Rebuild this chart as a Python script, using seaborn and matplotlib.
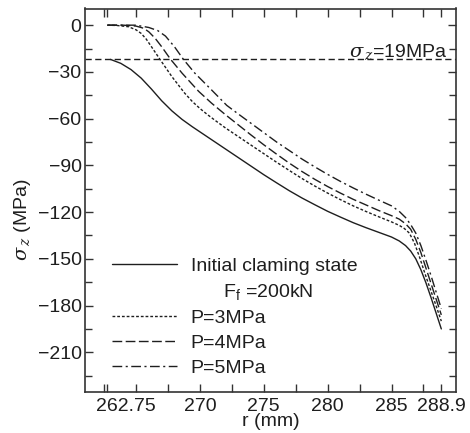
import matplotlib
matplotlib.use("Agg")
import matplotlib.pyplot as plt
import matplotlib.transforms as mtransforms
from matplotlib.lines import Line2D
from matplotlib.ticker import MultipleLocator, FixedLocator
import seaborn as sns
import pandas as pd

# ---------------- data ----------------
r_init = [263.0, 263.8, 264.6, 265.4, 266.2, 267.0, 267.8, 268.6, 269.4, 270.2, 271.0, 272.0,
          273.0, 274.0, 275.0, 276.0, 277.0, 278.0, 279.0, 280.0, 281.0, 282.0, 283.0,
          284.0, 285.0, 285.6, 286.1, 286.5, 286.9, 287.3, 287.7, 288.1, 288.5, 288.9]
s_init = [-22, -24.5, -28.5, -34, -41, -48.5, -55, -60.5, -65.2, -69.6, -74, -79.5,
          -85, -90.5, -96, -101.2, -106.3, -111, -115.3, -119.5, -123.2, -126.8, -130,
          -133, -136, -138.5, -141.5, -145, -150, -157, -165.5, -175, -185, -195]

r_p3 = [262.75, 263.5, 264.4, 265.0, 265.4, 265.8, 266.2, 266.9, 267.8, 268.8, 269.4,
        270.0, 270.6, 271.2, 272.0, 273.0, 274.0, 275.0, 276.0, 277.0, 278.0, 279.0,
        280.0, 281.0, 282.0, 283.0, 284.0, 285.0, 285.6, 286.0, 286.4, 286.8, 287.2,
        287.6, 288.0, 288.4, 288.9]
s_p3 = [0, -0.2, -1, -3, -5.3, -9, -13.8, -22.3, -33, -43.6, -49,
        -53.5, -57.5, -61.2, -66, -71.5, -77, -82.5, -88, -93.3, -98.5, -103.3,
        -107.8, -112, -116, -119.6, -123, -126.3, -128.5, -130.5, -133.5, -140, -149,
        -159, -168.5, -178, -190]

r_p4 = [262.75, 264.0, 265.0, 265.6, 266.0, 266.5, 267.0, 267.7, 268.6, 269.9, 270.9,
        272.0, 273.0, 274.0, 275.0, 276.0, 277.0, 278.0, 279.0, 280.0, 281.0, 282.0,
        283.0, 284.0, 285.0, 285.6, 286.1, 286.5, 286.9, 287.3, 287.7, 288.1, 288.5,
        288.9]
s_p4 = [0, 0, -0.6, -2, -4.3, -8.5, -13.8, -21.9, -30.8, -42.5, -50,
        -57.5, -64, -70.5, -76.8, -82.8, -88.6, -94, -99, -103.6, -107.8, -111.8,
        -115.4, -119, -122.3, -124.5, -127.5, -131, -137.5, -146, -156, -166, -176,
        -186]

r_p5 = [262.75, 265.0, 266.0, 266.7, 267.3, 268.0, 268.7, 269.6, 270.9, 272.1, 273.0,
        274.0, 275.0, 276.0, 277.0, 278.0, 279.0, 280.0, 281.0, 282.0, 283.0, 284.0,
        285.0, 285.6, 286.1, 286.5, 286.9, 287.3, 287.7, 288.1, 288.5, 288.9]
s_p5 = [0, 0, -1.5, -3.5, -7, -13.8, -21.9, -30.8, -41.5, -51.5, -57,
        -63, -69, -75, -80.5, -86, -91, -95.8, -100.3, -104.5, -108.5, -112.3,
        -116, -119.5, -123.5, -128, -133.5, -141.5, -151, -161, -171.5, -182]

threshold = -22
threshold_label = r"$\sigma_{\,z}$=19MPa"

series_labels = ["Initial claming state", "P=3MPa", "P=4MPa", "P=5MPa"]
extra_label = r"F$_\mathregular{f}$ =200kN"

x_major = [262.5, 262.75, 265, 267.5, 270, 272.5, 275, 277.5, 280, 282.5, 285, 287.5, 288.9]
x_labeled = [262.75, 270, 275, 280, 285, 288.9]
x_label_text = ["262.75", "270", "275", "280", "285", "288.9"]
y_major = [-210, -180, -150, -120, -90, -60, -30, 0]

# ---------------- style ----------------
sns.set_style("ticks")
plt.rcParams["font.family"] = ["Liberation Sans", "DejaVu Sans"]
plt.rcParams["mathtext.fontset"] = "custom"
plt.rcParams["mathtext.rm"] = "Liberation Sans"
plt.rcParams["mathtext.it"] = "DejaVu Serif:italic"
plt.rcParams["font.size"] = 14

ink = "#1e1e1e"
fig = plt.figure(figsize=(4.70, 4.33), dpi=100)
ax = fig.add_axes([85 / 470, 1 - 392 / 433, (456 - 85) / 470, (392 - 8.5) / 433])

styles = [
    dict(linestyle="-"),
    dict(linestyle=(0, (2.0, 1.4))),
    dict(linestyle=(0, (7.0, 2.5))),
    dict(linestyle=(0, (7.0, 2.5, 1.5, 2.5))),
]
datasets = [(r_init, s_init), (r_p3, s_p3), (r_p4, s_p4), (r_p5, s_p5)]
for (rr, ss), lab, st in zip(datasets, series_labels, styles):
    df = pd.DataFrame({"r": rr, "s": ss})
    sns.lineplot(data=df, x="r", y="s", ax=ax, color=ink, lw=1.0, label=lab,
                 sort=False, estimator=None, **st)

ax.axhline(threshold, color=ink, lw=1.0, linestyle=(0, (4.5, 2.5)))
ax.text(289.4, threshold + 1.8, threshold_label, ha="right", va="baseline", fontsize=14,
        color=ink)

ax.set_xlim(261.0, 290.05)
ax.set_ylim(-235.5, 10.7)

ax.xaxis.set_major_locator(FixedLocator(x_major))
ax.set_xticklabels([x_label_text[x_labeled.index(v)] if v in x_labeled else "" for v in x_major])
ax.yaxis.set_major_locator(FixedLocator(y_major))
ax.yaxis.set_minor_locator(MultipleLocator(15))

ax.tick_params(axis="both", which="both", direction="in", top=True, right=True,
               color="#333333", width=1.0, labelsize=14, labelcolor=ink)
ax.tick_params(axis="both", which="major", length=6)
ax.tick_params(axis="y", which="minor", length=5)
ax.tick_params(axis="y", which="major", pad=2.5)
ax.tick_params(axis="x", which="major", pad=4)
for sp in ax.spines.values():
    sp.set_color("#333333")
    sp.set_linewidth(1.2)

ax.set_xlabel("r (mm)", fontsize=14, color=ink, labelpad=-1)
ax.set_ylabel(r"$\sigma_{\,z}$ (MPa)", fontsize=14, color=ink)
ax.yaxis.set_label_coords(-0.14, 0.45)

# shift first tick label right as in the reference
for t in ax.get_xticklabels():
    if t.get_text() == "262.75":
        t.set_transform(t.get_transform() + mtransforms.ScaledTranslation(0.19, 0, fig.dpi_scale_trans))

handles, labels = ax.get_legend_handles_labels()
handles.insert(1, Line2D([], [], color="none"))
labels.insert(1, "      " + extra_label)
leg = ax.legend(handles, labels, loc="upper left", bbox_to_anchor=(0.073, 0.352),
                frameon=False, fontsize=14, handlelength=3.35, handletextpad=0.7,
                labelspacing=0.38, borderpad=0, borderaxespad=0)
for t in leg.get_texts():
    t.set_color(ink)

fig.savefig("out.png", dpi=100)
